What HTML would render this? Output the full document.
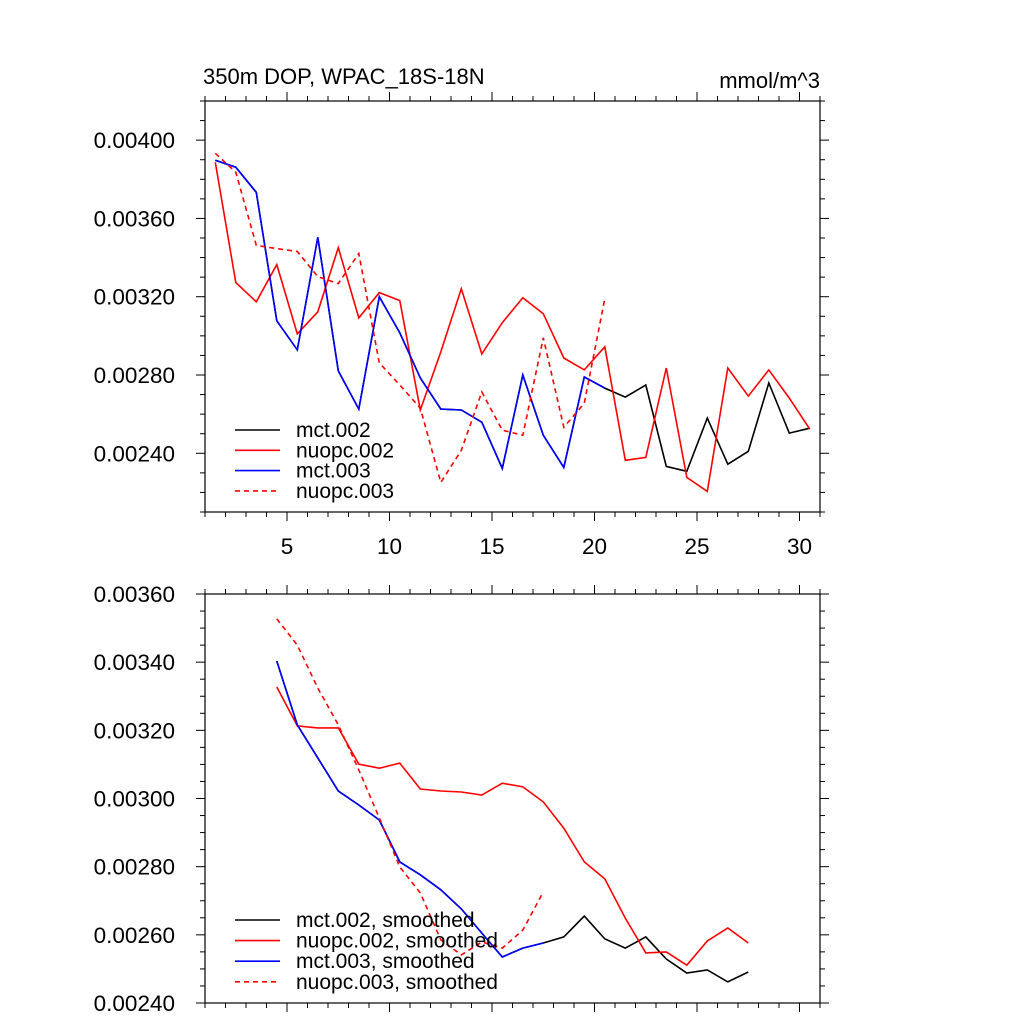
<!DOCTYPE html>
<html><head><meta charset="utf-8"><style>
html,body{margin:0;padding:0;background:#fff;}
svg{display:block;font-family:"Liberation Sans",sans-serif;}
</style></head><body>
<svg id="chart" width="1024" height="1024" xmlns="http://www.w3.org/2000/svg"></svg>
<script>
const xs = Array.from({length:30},(_,i)=>i+1.5);
const topMct002 = [0.003897,0.003862,0.003733,0.003077,0.002928,0.003503,0.002821,0.002626,0.003200,0.003015,0.002785,0.002626,0.002621,0.002559,0.002323,0.002800,0.002492,0.002328,0.002790,0.002733,0.002687,0.002749,0.002333,0.002308,0.002580,0.002344,0.002410,0.002759,0.002503,0.002528];
const topNuopc002 = [0.003887,0.003272,0.003174,0.003364,0.003010,0.003123,0.003451,0.003092,0.003221,0.003180,0.002621,0.002918,0.003241,0.002908,0.003067,0.003195,0.003113,0.002887,0.002826,0.002944,0.002364,0.002379,0.002836,0.002277,0.002205,0.002836,0.002692,0.002826,0.002682,0.002523];
const topMct003 = [0.003897,0.003862,0.003733,0.003077,0.002928,0.003503,0.002821,0.002626,0.003200,0.003015,0.002785,0.002626,0.002621,0.002559,0.002323,0.002800,0.002492,0.002328,0.002790,0.002733];
const topNuopc003 = [0.003933,0.003836,0.003462,0.003446,0.003431,0.003303,0.003267,0.003421,0.002862,0.002749,0.002631,0.002251,0.002415,0.002713,0.002518,0.002492,0.002990,0.002533,0.002656,0.003190];
const botXs = Array.from({length:24},(_,i)=>i+4.5);
const botMct002 = [0.003403,0.003216,0.003119,0.003022,0.002981,0.002937,0.002814,0.002776,0.002732,0.002676,0.002605,0.002535,0.002561,0.002576,0.002594,0.002655,0.002588,0.002561,0.002594,0.002529,0.002488,0.002497,0.002462,0.002491];
const botNuopc002 = [0.003327,0.003213,0.003207,0.003207,0.003101,0.003089,0.003104,0.003028,0.003022,0.003019,0.003010,0.003045,0.003034,0.002990,0.002913,0.002814,0.002764,0.002649,0.002547,0.002550,0.002511,0.002582,0.002620,0.002576];
const botMct003 = [0.003403,0.003216,0.003119,0.003022,0.002981,0.002937,0.002814,0.002776,0.002732,0.002676,0.002605,0.002535,0.002561,0.002576];
const botNuopc003 = [0.003527,0.003450,0.003324,0.003216,0.003084,0.002943,0.002799,0.002723,0.002585,0.002541,0.002579,0.002561,0.002614,0.002726];
const topYTicks = ["0.00240","0.00280","0.00320","0.00360","0.00400"];
const botYTicks = ["0.00240","0.00260","0.00280","0.00300","0.00320","0.00340","0.00360"];
const xTickLabels = ["5","10","15","20","25","30"];

const NS="http://www.w3.org/2000/svg";
const svg=document.getElementById('chart');
function mk(tag,attrs,parent){const e=document.createElementNS(NS,tag);for(const k in attrs)e.setAttribute(k,attrs[k]);(parent||svg).appendChild(e);return e;}
const L=205,R=820;
const xScale=x=>L+(x-1)*(R-L)/30;

function panel(name,top,bot,ymin,ymax,yMajor,yMinor,yLabels,showX){
  const g=mk('g',{});
  
  
  const yS=v=>bot-(v-ymin)/(ymax-ymin)*(bot-top);
  const fr=mk('rect',{x:L,y:top,width:R-L,height:bot-top,fill:'none',stroke:'#000','stroke-width':1.2},g);
  
  
  const n=Math.round((ymax-ymin)/yMinor);
  for(let i=0;i<=n;i++){
    const v=ymin+i*yMinor;const y=yS(v);
    const major=yLabels.some(s=>Math.abs(parseFloat(s)-v)<1e-9);
    const len=major?9:5;
    mk('line',{x1:L-len,y1:y,x2:L,y2:y,stroke:'#000','stroke-width':1},g);
    mk('line',{x1:R,y1:y,x2:R+len,y2:y,stroke:'#000','stroke-width':1},g);
  }
  yLabels.forEach(s=>{
    const v=parseFloat(s);const y=yS(v);
    const t=mk('text',{x:175,y:y+8,'text-anchor':'end','font-size':22.5},g);
    t.textContent=s;
    
    
  });
  for(let x=1;x<=31;x++){
    const px=xScale(x);const major=x%5===0;const len=major?9:5;
    mk('line',{x1:px,y1:bot,x2:px,y2:bot+len,stroke:'#000','stroke-width':1},g);
    mk('line',{x1:px,y1:top-len,x2:px,y2:top,stroke:'#000','stroke-width':1},g);
  }
  if(showX){
    xTickLabels.forEach(s=>{
      const t=mk('text',{x:xScale(+s),y:bot+42,'text-anchor':'middle','font-size':22.5},g);
      t.textContent=s;
      
      
    });
  }
  return {g,yS};
}
function series(p,name,xarr,vals,color,dash){
  const pts=vals.map((v,i)=>xScale(xarr[i]).toFixed(1)+','+p.yS(v).toFixed(1)).join(' ');
  const pl=mk('polyline',{points:pts,fill:'none',stroke:color,'stroke-width':1.6,'stroke-linejoin':'miter'},p.g);
  if(dash)pl.setAttribute('stroke-dasharray','5,4');
  
  
}
function legend(p,name,items,y0,dy,fs){
  const lg=mk('g',{},p.g);
  
  
  items.forEach((it,i)=>{
    const y=y0+i*dy;
    const ln=mk('line',{x1:235,y1:y,x2:280,y2:y,stroke:it[1],'stroke-width':1.6},lg);
    if(it[2])ln.setAttribute('stroke-dasharray','5,4');
    const t=mk('text',{x:296,y:y+7,'font-size':fs},lg);
    t.textContent=it[0];
    
    
  });
}
const p1=panel('top-panel',101,512,0.00210,0.00420,0.0004,0.0001,topYTicks,true);
series(p1,'mct002-line',xs,topMct002,'#000',false);
series(p1,'nuopc002-line',xs,topNuopc002,'#f00',false);
series(p1,'mct003-line',xs,topMct003,'#00f',false);
series(p1,'nuopc003-line',xs,topNuopc003,'#f00',true);
legend(p1,'top-legend',[['mct.002','#000'],['nuopc.002','#f00'],['mct.003','#00f'],['nuopc.003','#f00',1]],430,20.3,21);
const t1=mk('text',{x:203,y:84,'font-size':22});t1.textContent='350m DOP, WPAC_18S-18N';


const t2=mk('text',{x:820,y:88,'font-size':22,'text-anchor':'end'});t2.textContent='mmol/m^3';



const p2=panel('bottom-panel',594,1003,0.00240,0.00360,0.0002,0.00005,botYTicks,false);
series(p2,'mct002-smoothed-line',botXs,botMct002,'#000',false);
series(p2,'nuopc002-smoothed-line',botXs,botNuopc002,'#f00',false);
series(p2,'mct003-smoothed-line',botXs,botMct003,'#00f',false);
series(p2,'nuopc003-smoothed-line',botXs,botNuopc003,'#f00',true);
legend(p2,'bottom-legend',[['mct.002, smoothed','#000'],['nuopc.002, smoothed','#f00'],['mct.003, smoothed','#00f'],['nuopc.003, smoothed','#f00',1]],920,20.6,21);
</script>
</body></html>
